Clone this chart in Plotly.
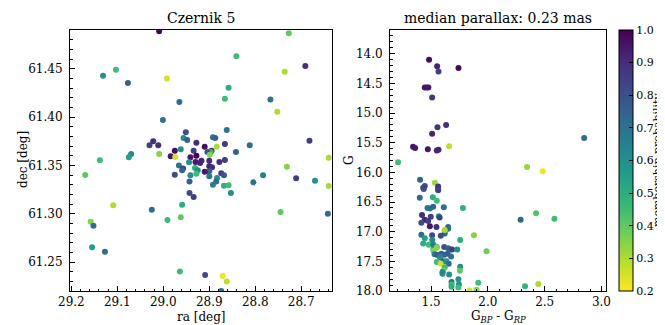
import plotly.graph_objects as go

# ---------------- data: left panel (sky positions) ----------------
ra = [29.009, 28.727, 28.841, 28.691, 28.736, 29.103, 29.131, 28.992, 29.077, 28.858,
      28.866, 28.767, 28.965, 28.752, 29.001, 28.862, 28.951, 28.956, 28.948, 28.682,
      29.030, 29.022, 29.011, 28.928, 28.892, 28.887, 28.866, 28.812, 28.910, 28.884,
      28.962, 28.975, 28.934, 28.895, 28.897, 28.904, 28.842, 29.070, 29.009, 29.075,
      28.984, 28.974, 28.941, 28.928, 28.917, 28.899, 28.900, 28.866, 28.878, 29.138,
      29.170, 28.944, 28.930, 28.920, 28.966, 28.957, 28.959, 28.931, 28.925, 28.900,
      28.894, 28.900, 28.910, 28.731, 28.928, 28.975, 28.941, 28.874, 28.868, 28.900,
      28.783, 28.711, 28.883, 28.943, 28.885, 28.804, 28.670, 28.892, 28.868, 28.858,
      28.640, 28.943, 28.853, 28.934, 28.959, 29.109, 29.025, 28.745, 28.642, 28.962,
      28.991, 29.158, 29.152, 29.155, 29.127, 28.964, 28.909, 28.871, 28.862, 28.640,
      28.874]
dec = [61.4886, 61.4866, 61.4628, 61.4528, 61.4469, 61.4490, 61.4428, 61.4397, 61.4352, 61.4303,
       61.4190, 61.4180, 61.4155, 61.4055, 61.3969, 61.3866, 61.3841, 61.3783, 61.3762, 61.3755,
       61.3707, 61.3748, 61.3707, 61.3734, 61.3790, 61.3783, 61.3720, 61.3707, 61.3693, 61.3693,
       61.3666, 61.3652, 61.3652, 61.3652, 61.3638, 61.3638, 61.3638, 61.3617, 61.3617, 61.3583,
       61.3593, 61.3586, 61.3583, 61.3600, 61.3548, 61.3610, 61.3548, 61.3555, 61.3534, 61.3552,
       61.3400, 61.3531, 61.3534, 61.3524, 61.3497, 61.3466, 61.3448, 61.3472, 61.3448, 61.3490,
       61.3479, 61.3438, 61.3434, 61.3486, 61.3414, 61.3403, 61.3397, 61.3417, 61.3397, 61.3386,
       61.3397, 61.3366, 61.3369, 61.3334, 61.3334, 61.3324, 61.3341, 61.3300, 61.3290, 61.3293,
       61.3286, 61.3214, 61.3214, 61.3172, 61.3093, 61.3086, 61.3041, 61.3017, 61.3000, 61.2962,
       61.2934, 61.2917, 61.2876, 61.2652, 61.2607, 61.2403, 61.2366, 61.2355, 61.2297, 61.3579,
       61.2200]
prob_sky = [0.98, 0.40, 0.45, 0.90, 0.30, 0.45, 0.60, 0.25, 0.75, 0.50,
            0.45, 0.70, 0.72, 0.30, 0.70, 0.70, 0.80, 0.60, 0.75, 0.85,
            0.85, 0.90, 0.90, 0.90, 0.70, 0.75, 0.88, 0.72, 0.97, 0.30,
            0.60, 0.97, 0.85, 0.90, 0.45, 0.80, 0.75, 0.62, 0.35, 0.55,
            0.95, 0.25, 0.95, 1.00, 0.92, 0.35, 0.90, 0.85, 0.90, 0.45,
            0.40, 0.60, 0.95, 0.92, 0.70, 0.85, 0.75, 0.50, 0.60, 0.92,
            0.90, 0.75, 0.95, 0.35, 0.45, 0.82, 0.60, 0.85, 0.78, 0.70,
            0.65, 0.85, 0.60, 0.75, 0.72, 0.70, 0.60, 0.65, 0.50, 0.45,
            0.30, 0.82, 0.62, 0.85, 0.50, 0.30, 0.72, 0.40, 0.72, 0.40,
            0.45, 0.35, 0.72, 0.55, 0.72, 0.45, 0.82, 0.22, 0.28, 0.30,
            0.72]

# ---------------- data: right panel (colour-magnitude diagram) ----------------
bp_rp = [1.482, 1.553, 1.565, 1.741, 1.444, 1.460, 1.476, 1.509, 1.632, 1.556,
         1.509, 2.848, 1.341, 1.359, 1.471, 1.550, 1.565, 1.659,
         1.209, 2.345, 2.483, 1.403, 1.533, 1.444, 1.430, 1.435, 1.562, 1.562, 1.562,
         1.400, 1.515, 1.550, 1.468, 1.490, 1.518, 1.612, 1.780, 2.288, 2.424, 2.586,
         1.420, 1.444, 1.414, 1.474, 1.497, 1.567, 1.575, 1.547, 1.489, 1.650,
         1.650, 1.620, 1.620, 1.620, 1.585, 1.414, 1.509, 1.444, 1.510, 1.756,
         1.877, 1.430, 1.480, 1.520, 1.550, 1.520, 1.520, 1.550, 1.615, 1.650,
         1.670, 1.685, 1.730, 1.530, 1.550, 1.590, 1.615, 1.645, 1.676, 1.578,
         1.607, 1.550, 1.585, 1.635, 1.655, 1.756, 1.620, 1.607, 1.754, 1.600,
         1.600, 1.659, 1.740, 1.680, 1.680, 1.680, 1.745, 1.740, 1.838, 1.915,
         1.900, 1.988, 2.327, 2.444]
gmag = [14.10, 14.21, 14.30, 14.24, 14.57, 14.57, 14.57, 14.74, 15.20, 15.24,
        15.35, 15.42, 15.57, 15.59, 15.61, 15.63, 15.62, 15.56,
        15.83, 15.91, 15.98, 16.125, 16.175, 16.23, 16.26, 16.28, 16.24, 16.28, 16.30,
        16.43, 16.42, 16.48, 16.60, 16.61, 16.58, 16.59, 16.60, 16.80, 16.69, 16.78,
        16.72, 16.80, 16.85, 16.82, 16.75, 16.74, 16.76, 16.92, 16.91, 16.92,
        16.95, 16.98, 17.03, 16.97, 17.07, 17.05, 17.06, 17.11, 17.14, 17.14,
        17.06, 17.20, 17.22, 17.22, 17.26, 17.30, 17.32, 17.27, 17.26, 17.28,
        17.30, 17.30, 17.30, 17.38, 17.39, 17.37, 17.39, 17.37, 17.42, 17.43,
        17.50, 17.51, 17.54, 17.50, 17.54, 17.59, 17.60, 17.66, 17.66, 17.68,
        17.71, 17.72, 17.80, 17.85, 17.89, 17.93, 17.89, 17.94, 17.99, 17.86,
        17.98, 17.33, 17.92, 17.88]
prob_cmd = [0.98, 0.92, 0.85, 0.98, 0.95, 0.95, 0.95, 0.88, 0.90, 0.87,
            0.92, 0.72, 0.95, 0.95, 0.95, 0.92, 0.92, 0.28,
            0.45, 0.33, 0.22, 0.75, 0.32, 0.82, 0.82, 0.82, 0.88, 0.88, 0.85,
            0.72, 0.50, 0.45, 0.68, 0.68, 0.75, 0.72, 0.50, 0.75, 0.42, 0.45,
            0.90, 0.92, 0.82, 0.85, 0.85, 0.55, 0.85, 0.90, 0.95, 0.72,
            0.72, 0.72, 0.72, 0.30, 0.82, 0.72, 0.82, 0.55, 0.62, 0.50,
            0.35, 0.50, 0.45, 0.65, 0.45, 0.55, 0.35, 0.35, 0.80, 0.75,
            0.75, 0.85, 0.60, 0.65, 0.75, 0.75, 0.75, 0.75, 0.72, 0.62,
            0.75, 0.45, 0.25, 0.60, 0.72, 0.60, 0.45, 0.35, 0.40, 0.62,
            0.62, 0.60, 0.60, 0.72, 0.45, 0.50, 0.60, 0.45, 0.25, 0.45,
            0.35, 0.38, 0.48, 0.30]

cb_ticks = [0.2, 0.3, 0.4, 0.5, 0.6, 0.7, 0.8, 0.9, 1.0]

# ---------------- figure ----------------
W, H = 665, 325
FONT = "DejaVu Serif"
TICK_SIZE = 12
LABEL_SIZE = 12

def px_x(p):
    return p / W

def px_y(p):
    return 1 - p / H

marker_common = dict(colorscale="Viridis", reversescale=True, cmin=0.2, cmax=1.0,
                     size=6, line=dict(width=0), opacity=1)

fig = go.Figure()
fig.add_trace(go.Scatter(x=ra, y=dec, mode="markers", xaxis="x", yaxis="y",
                         marker=dict(color=prob_sky, showscale=False, **marker_common),
                         hoverinfo="skip"))
fig.add_trace(go.Scatter(x=bp_rp, y=gmag, mode="markers", xaxis="x2", yaxis="y2",
                         marker=dict(color=prob_cmd, showscale=True,
                                     colorbar=dict(
                                         x=px_x(611), xanchor="left", xpad=0, ypad=0,
                                         y=px_y(283), yanchor="bottom",
                                         len=(283 - 22) / H, lenmode="fraction",
                                         thickness=14, thicknessmode="pixels",
                                         outlinewidth=1, outlinecolor="black",
                                         tickvals=cb_ticks, tickformat=".1f",
                                         ticks="inside", ticklen=4, tickcolor="black",
                                         tickfont=dict(family=FONT, size=11, color="black"),
                                     ),
                                     **marker_common),
                         hoverinfo="skip"))

axis_common = dict(showline=True, mirror=True, linecolor="black", linewidth=1,
                   ticks="inside", ticklen=5, tickcolor="black", tickwidth=1,
                   showgrid=False, zeroline=False,
                   tickfont=dict(family=FONT, size=TICK_SIZE, color="black"))

fig.update_layout(
    width=W, height=H,
    margin=dict(l=0, r=0, t=0, b=0, autoexpand=False),
    paper_bgcolor="white", plot_bgcolor="white",
    showlegend=False,
    xaxis=dict(domain=[px_x(62), px_x(324)], range=[29.203, 28.633], dtick=0.1,
               tickformat=".1f", anchor="y", ticklabelstandoff=0,
               minor=dict(ticks="inside", ticklen=2.5, dtick=0.02, tickcolor="black"),
               **axis_common),
    yaxis=dict(domain=[px_y(283), px_y(22)], range=[61.22, 61.49], dtick=0.05,
               tickformat=".2f", anchor="x", ticklabelstandoff=4,
               minor=dict(ticks="inside", ticklen=2.5, dtick=0.01, tickcolor="black"),
               **axis_common),
    xaxis2=dict(domain=[px_x(382), px_x(598)], range=[1.138, 3.04], dtick=0.5,
                tickformat=".1f", anchor="y2", ticklabelstandoff=0,
                minor=dict(ticks="inside", ticklen=2.5, dtick=0.1, tickcolor="black"),
                **axis_common),
    yaxis2=dict(domain=[px_y(283), px_y(22)], range=[18.0, 13.6], dtick=0.5,
                tickformat=".1f", anchor="x2", ticklabelstandoff=4,
                minor=dict(ticks="inside", ticklen=2.5, dtick=0.1, tickcolor="black"),
                **axis_common),
    annotations=[
        dict(text="Czernik 5", x=px_x(193), y=px_y(10), xref="paper", yref="paper",
             showarrow=False, xanchor="center", yanchor="middle",
             font=dict(family=FONT, size=14, color="black")),
        dict(text="median parallax: 0.23 mas", x=px_x(490), y=px_y(10), xref="paper", yref="paper",
             showarrow=False, xanchor="center", yanchor="middle",
             font=dict(family=FONT, size=14, color="black")),
        dict(text="ra [deg]", x=px_x(193), y=px_y(309), xref="paper", yref="paper",
             showarrow=False, xanchor="center", yanchor="middle",
             font=dict(family=FONT, size=LABEL_SIZE, color="black")),
        dict(text="dec [deg]", x=px_x(15), y=px_y(152), xref="paper", yref="paper",
             showarrow=False, xanchor="center", yanchor="middle", textangle=-90,
             font=dict(family=FONT, size=LABEL_SIZE, color="black")),
        dict(text="G", x=px_x(341), y=px_y(152), xref="paper", yref="paper",
             showarrow=False, xanchor="center", yanchor="middle", textangle=-90,
             font=dict(family=FONT, size=LABEL_SIZE, color="black")),
        dict(text="G<sub><i>BP</i></sub> - G<sub><i>RP</i></sub>", x=px_x(490), y=px_y(309),
             xref="paper", yref="paper",
             showarrow=False, xanchor="center", yanchor="middle",
             font=dict(family=FONT, size=LABEL_SIZE, color="black")),
        dict(text="membership probability", x=px_x(650), y=px_y(152), xref="paper", yref="paper",
             showarrow=False, xanchor="center", yanchor="middle", textangle=-90,
             font=dict(family=FONT, size=11, color="black")),
    ],
)

fig.write_html("out.html")
